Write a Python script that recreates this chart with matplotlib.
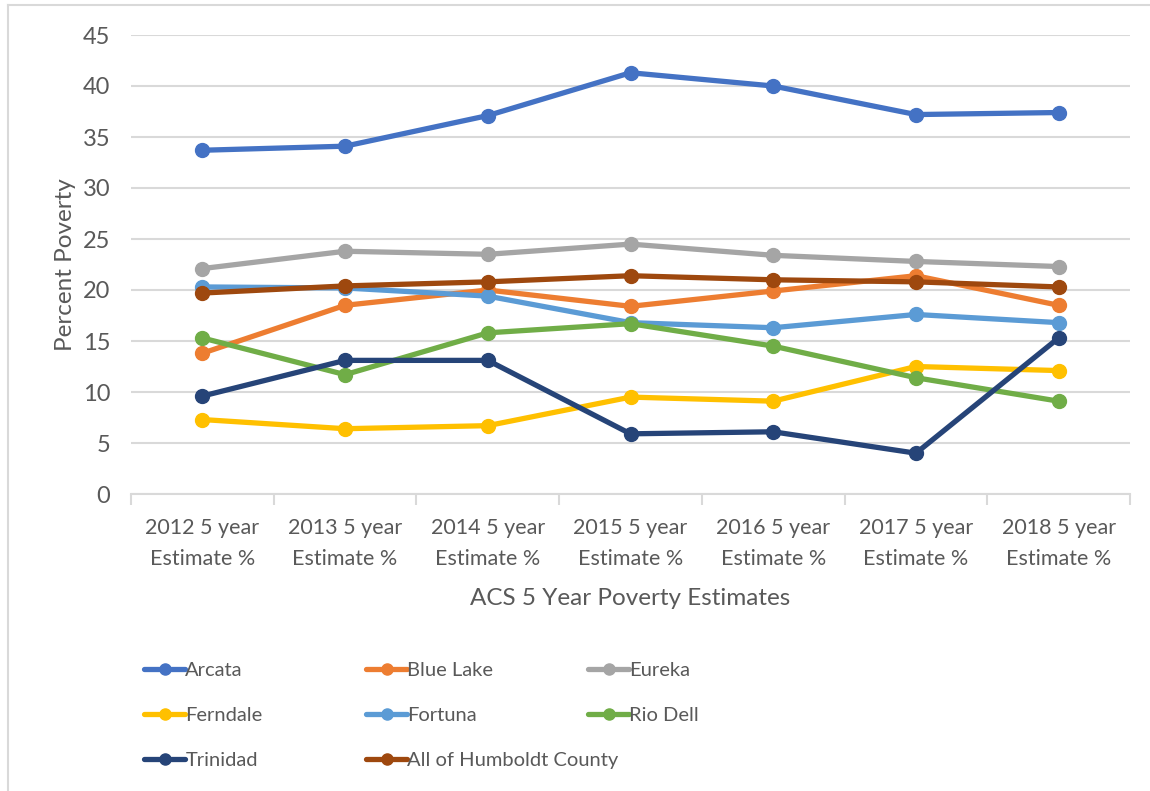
import numpy as np
import matplotlib.pyplot as plt
from matplotlib.lines import Line2D

plt.rcParams['font.family'] = ['Lato', 'DejaVu Sans']

# categories (x axis)
years = ["2012 5 year\nEstimate %", "2013 5 year\nEstimate %", "2014 5 year\nEstimate %",
         "2015 5 year\nEstimate %", "2016 5 year\nEstimate %", "2017 5 year\nEstimate %",
         "2018 5 year\nEstimate %"]

# percent poverty per place
arcata    = [33.7, 34.1, 37.1, 41.3, 40.0, 37.2, 37.4]
blue_lake = [13.8, 18.5, 20.0, 18.4, 19.9, 21.4, 18.5]
eureka    = [22.1, 23.8, 23.5, 24.5, 23.4, 22.8, 22.3]
ferndale  = [7.3, 6.4, 6.7, 9.5, 9.1, 12.5, 12.1]
fortuna   = [20.3, 20.2, 19.4, 16.8, 16.3, 17.6, 16.8]
rio_dell  = [15.3, 11.7, 15.8, 16.7, 14.5, 11.4, 9.1]
trinidad  = [9.6, 13.1, 13.1, 5.9, 6.1, 4.0, 15.3]
humboldt  = [19.7, 20.4, 20.8, 21.4, 21.0, 20.8, 20.3]

names = ["Arcata", "Blue Lake", "Eureka", "Ferndale", "Fortuna", "Rio Dell",
         "Trinidad", "All of Humboldt County"]
series = [arcata, blue_lake, eureka, ferndale, fortuna, rio_dell, trinidad, humboldt]
colors = ["#4472C4", "#ED7D31", "#A5A5A5", "#FFC000", "#5B9BD5", "#70AD47",
          "#264478", "#9E480E"]

txt = "#595959"
grid = "#D9D9D9"

fig = plt.figure(figsize=(11.5, 7.91), dpi=100)
ax = fig.add_axes([131/1150, 1-494/791, 999/1150, 459/791])

x = np.arange(len(years))
handles = []
for name, vals, c in zip(names, series, colors):
    h, = ax.plot(x, vals, color=c, lw=3.8, marker='o', ms=10, label=name,
                 solid_capstyle='round')
    handles.append(h)

ax.set_xlim(-0.5, len(years) - 0.5)
ax.set_ylim(0, 45)
ax.set_yticks(np.arange(0, 46, 5))
ax.yaxis.grid(True, color=grid, lw=1.5)
ax.set_axisbelow(True)
for s in ['top', 'right', 'left']:
    ax.spines[s].set_visible(False)
ax.spines['bottom'].set_color(grid)
ax.spines['bottom'].set_linewidth(1.5)

ax.set_xticks(x)
ax.set_xticklabels(years, fontsize=15.5, color=txt, linespacing=1.7)
ax.set_xticks(np.arange(-0.5, len(years)), minor=True)
ax.tick_params(axis='x', which='major', length=0, pad=17)
ax.tick_params(axis='x', which='minor', length=8, color=grid, width=1.5)
ax.tick_params(axis='y', length=0, labelsize=17, labelcolor=txt, pad=15)

ax.set_ylabel("Percent Poverty", fontsize=17.5, color=txt, labelpad=5)
ax.set_xlabel("ACS 5 Year Poverty Estimates", fontsize=17.5, color=txt, labelpad=14)

# legend, three columns placed by hand
cols = [[0, 3, 6], [1, 4, 7], [2, 5]]
xs = [134, 356, 578]
for idx, xp in zip(cols, xs):
    leg = fig.legend([handles[i] for i in idx], [names[i] for i in idx],
                     loc='upper left', bbox_to_anchor=(xp/1150, 1-652/791),
                     frameon=False, fontsize=14.5, handlelength=2.05,
                     handletextpad=0.0, labelspacing=1.38, borderpad=0,
                     markerscale=0.8)
    for t in leg.get_texts():
        t.set_color(txt)

# chart border
fig.add_artist(Line2D([8/1150, 1], [1-5/791, 1-5/791], color=grid, lw=1.5))
fig.add_artist(Line2D([8/1150, 8/1150], [0, 1-5/791], color=grid, lw=1.5))

fig.savefig("out.png", dpi=100)
